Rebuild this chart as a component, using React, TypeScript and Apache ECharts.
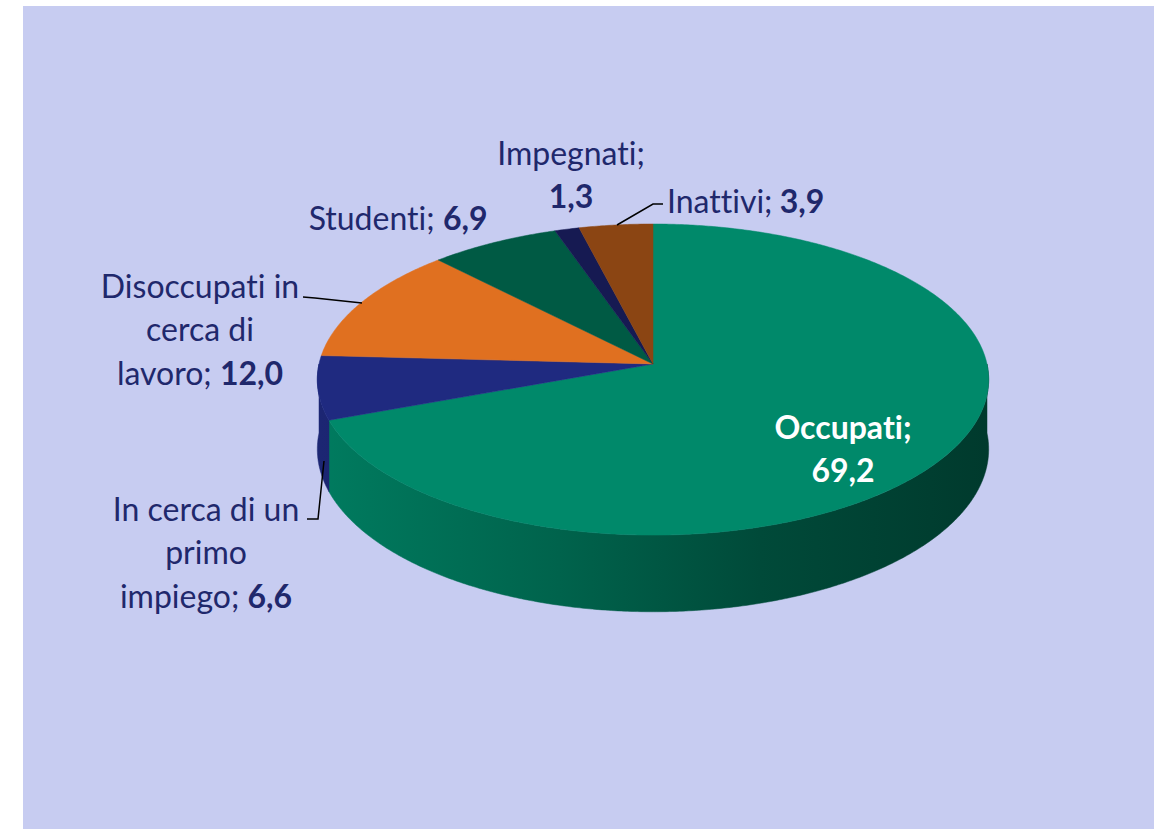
import React, { useEffect, useRef } from 'react';
import * as echarts from 'echarts';

// ---- data ----
const categories = [
  'Occupati',
  'In cerca di un primo impiego',
  'Disoccupati in cerca di lavoro',
  'Studenti',
  'Impegnati',
  'Inattivi',
];
const values = [69.2, 6.6, 12.0, 6.9, 1.3, 3.9];
const sliceColors = ['#00896A', '#1F2A80', '#E07020', '#005A44', '#161A52', '#8B4513'];

// ---- label layout ----
const nameWrap = [
  ['Occupati'],
  ['In cerca di un', 'primo', 'impiego'],
  ['Disoccupati in', 'cerca di', 'lavoro'],
  ['Studenti'],
  ['Impegnati'],
  ['Inattivi'],
];
const valueOwnLine = [true, false, false, false, true, false];
const labelAnchor: [number, number, string][] = [
  [843, 438, 'center'],
  [206, 520, 'center'],
  [200, 297, 'center'],
  [398, 229, 'center'],
  [571, 164, 'center'],
  [667, 212, 'left'],
];
const leaderLines: (number[][] | null)[] = [
  null,
  [[307, 519], [318, 519], [324, 461]],
  [[303, 297], [315, 298], [362, 303]],
  null,
  null,
  [[617, 225], [653, 204], [663, 204]],
];

// ---- geometry / style ----
const CX = 653, CY = 364, RX = 334, RY = 154, P = 0.1, DEPTH = 69;
const FONT = 'Lato, "Noto Sans", sans-serif';
const FS = 32;
const LH = 43.5;
const TEXT_COLOR = '#1F286C';

function proj(deg: number) {
  const r = (deg * Math.PI) / 180;
  const s = Math.sin(r), c = Math.cos(r);
  const w = 1 / (1 - P * s);
  return [CX + RX * c * w, CY + RY * s * w, w];
}

function shade(hex: string, f: number) {
  const n = parseInt(hex.slice(1), 16);
  const r = Math.round(((n >> 16) & 255) * f);
  const g = Math.round(((n >> 8) & 255) * f);
  const b = Math.round((n & 255) * f);
  return `rgb(${r},${g},${b})`;
}

const total = values.reduce((a, b) => a + b, 0);
function sliceAngles(i: number) {
  let acc = 0;
  for (let k = 0; k < i; k++) acc += values[k];
  const a0 = -90 + (acc / total) * 360;
  const a1 = a0 + (values[i] / total) * 360;
  return [a0, a1];
}

function arcPoints(a0: number, a1: number) {
  const pts: number[][] = [];
  const n = Math.max(2, Math.ceil((a1 - a0) / 0.5));
  for (let k = 0; k <= n; k++) {
    const p = proj(a0 + ((a1 - a0) * k) / n);
    pts.push(p);
  }
  return pts;
}

const fmt = (v: number) => v.toFixed(1).replace('.', ',');

export default function App() {
  const ref = useRef<HTMLDivElement>(null);
  useEffect(() => {
    if (!ref.current) return;
    const chart = echarts.init(ref.current, undefined, { renderer: 'svg' });

    const wallItem = (params: any, api: any) => {
      const i = params.dataIndex;
      api.value(0);
      const [a0, a1] = sliceAngles(i);
      const s = Math.max(a0, 0), e = Math.min(a1, 180);
      if (e <= s) return { type: 'group', children: [] };
      const top = arcPoints(s, e);
      const bottom = top.map((p) => [p[0], p[1] + DEPTH * p[2]]).reverse();
      const pts = top.map((p) => [p[0], p[1]]).concat(bottom);
      const c = sliceColors[i];
      const grad = new echarts.graphic.LinearGradient(
        CX - RX, 0, CX + RX, 0,
        [
          { offset: 0, color: shade(c, 0.9) },
          { offset: 0.36, color: shade(c, 0.72) },
          { offset: 0.66, color: shade(c, 0.54) },
          { offset: 1, color: shade(c, 0.42) },
        ],
        true
      );
      return {
        type: 'polygon',
        shape: { points: pts },
        style: { fill: grad, stroke: grad, lineWidth: 0.5 },
      };
    };

    const topItem = (params: any, api: any) => {
      const i = params.dataIndex;
      api.value(0);
      const [a0, a1] = sliceAngles(i);
      const arc = arcPoints(a0, a1).map((p) => [p[0], p[1]]);
      const pts = [[CX, CY]].concat(arc);
      return {
        type: 'polygon',
        shape: { points: pts },
        style: { fill: sliceColors[i], stroke: sliceColors[i], lineWidth: 0.5 },
      };
    };

    const graphics: any[] = [
      {
        type: 'rect',
        z: -10,
        shape: { x: 23, y: 6, width: 1154 - 23, height: 829 - 6 },
        style: { fill: '#C7CCF1' },
      },
    ];

    categories.forEach((_, i) => {
      const lines = nameWrap[i].slice();
      const v = fmt(values[i]);
      const isInside = i === 0;
      const color = isInside ? '#FFFFFF' : TEXT_COLOR;
      const rows: string[] = [];
      lines.forEach((ln, k) => {
        const last = k === lines.length - 1;
        if (!last) rows.push(`{n|${ln}}`);
        else if (valueOwnLine[i]) {
          rows.push(`{n|${ln};}`);
          rows.push(`{b|${v}}`);
        } else rows.push(`{n|${ln}; }{b|${v}}`);
      });
      const [ax, ay, align] = labelAnchor[i];
      rows.forEach((row, r) => {
        graphics.push({
          type: 'text',
          z: 100,
          x: ax,
          y: ay + r * LH - FS * 0.36,
          style: {
            text: row,
            align,
            verticalAlign: 'middle',
            rich: {
              n: {
                fontFamily: FONT,
                fontSize: FS,
                fontWeight: isInside ? 'bold' : 'normal',
                fill: color,
              },
              b: { fontFamily: FONT, fontSize: FS, fontWeight: 'bold', fill: color },
            },
          },
        });
      });
      const ll = leaderLines[i];
      if (ll) {
        graphics.push({
          type: 'polyline',
          z: 100,
          shape: { points: ll },
          style: { stroke: '#000000', lineWidth: 1.5, fill: null },
        });
      }
    });

    chart.setOption({
      animation: false,
      graphic: graphics,
      series: [
        {
          type: 'custom',
          coordinateSystem: 'none',
          z: 2,
          silent: true,
          data: values.map((v, i) => ({ name: categories[i], value: [v] })),
          renderItem: wallItem,
        },
        {
          type: 'custom',
          coordinateSystem: 'none',
          z: 3,
          silent: true,
          data: values.map((v, i) => ({ name: categories[i], value: [v] })),
          renderItem: topItem,
        },
      ],
    });
    return () => chart.dispose();
  }, []);
  return (
    <div
      ref={ref}
      style={{
        position: 'fixed',
        left: 0,
        top: 0,
        width: 1154,
        height: 829,
        background: '#FFFFFF',
        fontVariantLigatures: 'none',
        fontFeatureSettings: '"liga" 0, "clig" 0',
      }}
    />
  );
}
